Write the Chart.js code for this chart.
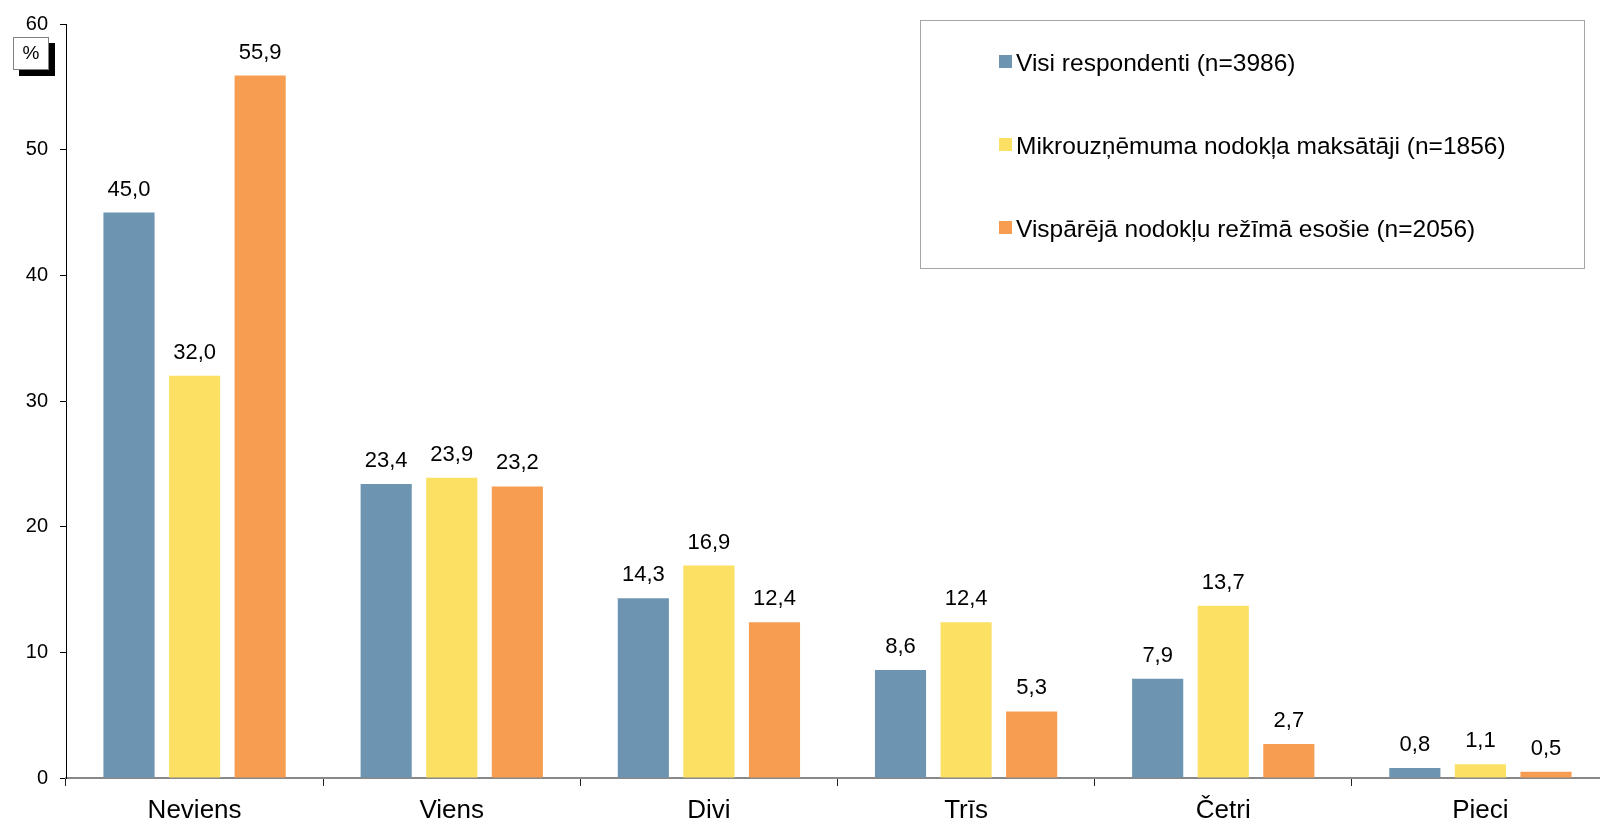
<!DOCTYPE html>
<html>
<head>
<meta charset="utf-8">
<script src="https://cdn.jsdelivr.net/npm/chart.js@4/dist/chart.umd.min.js"></script>
<style>
  body { margin: 0; background: #fff; overflow: hidden; }
  #wrap { width: 1610px; height: 825px; }
</style>
</head>
<body>
<div id="wrap"><canvas id="chart" width="1610" height="825"></canvas></div>
<script>
const categories = ['Neviens', 'Viens', 'Divi', 'Trīs', 'Četri', 'Pieci'];
const seriesNames = [
  'Visi respondenti (n=3986)',
  'Mikrouzņēmuma nodokļa maksātāji (n=1856)',
  'Vispārējā nodokļu režīmā esošie (n=2056)'
];
const allResp = [45.0, 23.4, 14.3, 8.6, 7.9, 0.8];
const microTax = [32.0, 23.9, 16.9, 12.4, 13.7, 1.1];
const generalTax = [55.9, 23.2, 12.4, 5.3, 2.7, 0.5];
const colors = ['#6d95b2', '#fbe064', '#f79d52'];

const font = "'Liberation Sans', Arial, sans-serif";

// vērtības virs stabiņiem
const valueLabels = {
  id: 'valueLabels',
  afterDatasetsDraw(chart) {
    const ctx = chart.ctx;
    ctx.save();
    ctx.font = '22px ' + font;
    ctx.fillStyle = '#000';
    ctx.textAlign = 'center';
    ctx.textBaseline = 'alphabetic';
    chart.data.datasets.forEach((ds, i) => {
      chart.getDatasetMeta(i).data.forEach((bar, j) => {
        const txt = ds.data[j].toFixed(1).replace('.', ',');
        ctx.fillText(txt, bar.x, bar.y - 17);
      });
    });
    ctx.restore();
  }
};

// leģenda rāmī un "%" zīme
const boxLegend = {
  id: 'boxLegend',
  afterDraw(chart) {
    const ctx = chart.ctx;
    ctx.save();
    ctx.fillStyle = '#fff';
    ctx.fillRect(920, 20, 664, 248);
    ctx.strokeStyle = '#a6a6a6';
    ctx.lineWidth = 1;
    ctx.strokeRect(920.5, 20.5, 664, 248);
    ctx.font = '24.5px ' + font;
    ctx.textBaseline = 'alphabetic';
    chart.data.datasets.forEach((ds, i) => {
      const y = 71 + i * 83;
      ctx.fillStyle = ds.backgroundColor;
      ctx.fillRect(999, y - 16, 13, 13);
      ctx.fillStyle = '#000';
      ctx.fillText(ds.label, 1016, y);
    });

    ctx.fillStyle = '#000';
    ctx.fillRect(19, 43, 36, 33);
    ctx.fillStyle = '#fff';
    ctx.fillRect(13, 37, 36, 33);
    ctx.strokeStyle = '#808080';
    ctx.strokeRect(13.5, 37.5, 35, 32);
    ctx.fillStyle = '#000';
    ctx.font = '19px ' + font;
    ctx.textAlign = 'center';
    ctx.textBaseline = 'middle';
    ctx.fillText('%', 31, 54);
    ctx.restore();
  }
};

new Chart(document.getElementById('chart'), {
  type: 'bar',
  data: {
    labels: categories,
    datasets: [
      { label: seriesNames[0], data: allResp, backgroundColor: colors[0] },
      { label: seriesNames[1], data: microTax, backgroundColor: colors[1] },
      { label: seriesNames[2], data: generalTax, backgroundColor: colors[2] }
    ]
  },
  options: {
    responsive: false,
    devicePixelRatio: 1,
    animation: false,
    layout: { padding: { left: 0, top: 22, right: 1, bottom: 0 } },
    datasets: { bar: { categoryPercentage: 0.765, barPercentage: 0.78 } },
    plugins: {
      legend: { display: false },
      tooltip: { enabled: false }
    },
    scales: {
      x: {
        afterFit: (s) => { s.height = 47; },
        grid: { offset: true, drawOnChartArea: false, tickLength: 8, color: '#222' },
        border: { color: '#888', width: 2 },
        ticks: { font: { family: font, size: 26 }, color: '#000', padding: 9 }
      },
      y: {
        min: 0,
        max: 60,
        afterFit: (s) => { s.width = 66; },
        grid: { drawOnChartArea: false, tickLength: 6, color: '#000' },
        border: { color: '#000', width: 1 },
        ticks: { stepSize: 10, font: { family: font, size: 20 }, color: '#000', padding: 12 }
      }
    }
  },
  plugins: [valueLabels, boxLegend]
});
</script>
</body>
</html>
